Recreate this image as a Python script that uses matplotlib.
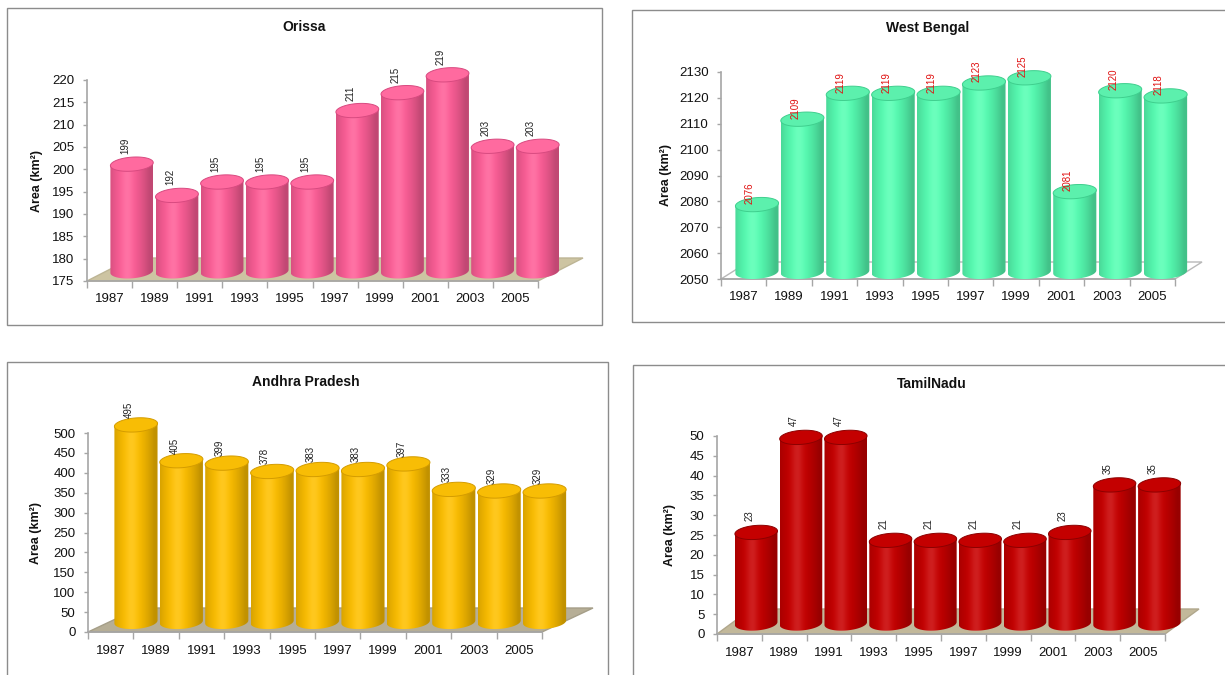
import numpy as np
import matplotlib.pyplot as plt
from matplotlib.patches import Polygon, Rectangle
from matplotlib.colors import to_rgb

plt.rcParams['font.family'] = ['Liberation Sans', 'DejaVu Sans']

years = ['1987', '1989', '1991', '1993', '1995', '1997', '1999', '2001', '2003', '2005']

orissa = [199, 192, 195, 195, 195, 211, 215, 219, 203, 203]
west_bengal = [2076, 2109, 2119, 2119, 2119, 2123, 2125, 2081, 2120, 2118]
andhra_pradesh = [495, 405, 399, 378, 383, 383, 397, 333, 329, 329]
tamilnadu = [23, 47, 47, 21, 21, 21, 21, 23, 35, 35]

W, H = 1225, 675


def fx(px):
    return px / W


def fy(py):
    return 1 - py / H


def cylinder(ax, xc, y0, y1, w, eh, sh, base, top, rim, z):
    # body: straight sides plus the lower half of the base ellipse
    tb = np.linspace(np.pi, 2 * np.pi, 60)
    arc = np.column_stack([xc + w / 2 * np.cos(tb), y0 + eh / 2 * np.sin(tb) + sh * np.cos(tb)])
    pts = np.vstack([[xc - w / 2, y1 - sh], arc, [xc + w / 2, y1 + sh]])
    clip = Polygon(pts, closed=True, facecolor='none', edgecolor='none', zorder=z)
    ax.add_patch(clip)

    t = np.linspace(0, 1, 64)
    lam = np.clip(np.cos((t - 0.4) * np.pi * 0.95), 0, 1)
    fac = 0.76 + 0.24 * lam
    col = np.array(to_rgb(base))[None, :] * fac[:, None]
    col = col + (1 - col) * (0.12 * lam ** 12)[:, None]
    grad = np.clip(col, 0, 1)[None, :, :]
    im = ax.imshow(grad, extent=[xc - w / 2, xc + w / 2, y0 - eh / 2 - abs(sh), y1 + abs(sh)],
                   aspect='auto', interpolation='bilinear', zorder=z)
    im.set_clip_path(clip)

    # top cap
    tt = np.linspace(0, 2 * np.pi, 100)
    cap = np.column_stack([xc + w / 2 * np.cos(tt), y1 + eh / 2 * np.sin(tt) + sh * np.cos(tt)])
    ax.add_patch(Polygon(cap, closed=True, facecolor=top, edgecolor=rim, lw=0.7, zorder=z + 0.1))


panels = [
    dict(title='Orissa', values=orissa, ymin=175, ymax=220, step=5,
         xa=87, xb=538, ya=281, yb=80, ddx=45, ddy=23,
         base='#ff5f98', top='#ff6a9f', rim='#d84a80',
         floor='#cdc4a2', floor_edge='#bdb595', label_color='#222222', label_dy=3,
         box=(7, 8, 602, 325), title_xy=(304, 27), ylabel_x=37),
    dict(title='West Bengal', values=west_bengal, ymin=2050, ymax=2130, step=10,
         xa=721, xb=1175, ya=279, yb=72, ddx=27, ddy=17,
         base='#57ffb4', top='#5cf0ad', rim='#3fcf8e',
         floor='#ffffff', floor_edge='#b8b8b8', label_color='#e01010', label_dy=-6.5,
         box=(632, 10, 1232, 322), title_xy=(928, 28), ylabel_x=666),
    dict(title='Andhra Pradesh', values=andhra_pradesh, ymin=0, ymax=500, step=50,
         xa=88, xb=542, ya=632, yb=433, ddx=51, ddy=24,
         base='#ffc000', top='#f8bd05', rim='#d49c00',
         floor='#b6ae96', floor_edge='#a59e88', label_color='#222222', label_dy=0,
         box=(7, 362, 608, 682), title_xy=(306, 382), ylabel_x=36),
    dict(title='TamilNadu', values=tamilnadu, ymin=0, ymax=50, step=5,
         xa=717, xb=1165, ya=634, yb=436, ddx=34, ddy=25,
         base='#c80000', top='#c40000', rim='#8c0000',
         floor='#c2b89a', floor_edge='#b0a78c', label_color='#222222', label_dy=4,
         box=(633, 365, 1232, 682), title_xy=(932, 384), ylabel_x=670),
]

fig = plt.figure(figsize=(12.25, 6.75), dpi=100)

for p in panels:
    # panel frame
    x0, y0, x1, y1 = p['box']
    fig.add_artist(Rectangle((fx(x0), fy(y1)), fx(x1 - x0), (y1 - y0) / H,
                             transform=fig.transFigure, fill=False, edgecolor='#8c8c8c', lw=1))
    fig.text(fx(p['title_xy'][0]), fy(p['title_xy'][1]), p['title'], ha='center', va='center',
             fontsize=10, fontweight='bold', color='#111111')
    fig.text(fx(p['ylabel_x']), fy((p['ya'] + p['yb']) / 2), 'Area (km²)', ha='center', va='center',
             rotation=90, fontsize=9, fontweight='bold', color='#111111')

    ymin, ymax = p['ymin'], p['ymax']
    ppc = (p['xb'] - p['xa']) / 10.0
    ppv = (p['ya'] - p['yb']) / (ymax - ymin)
    ext_x, ext_y = 11.5, 1.35
    ax = fig.add_axes([fx(p['xa']), fy(p['ya']), ppc * ext_x / W,
                       (p['ya'] - p['yb']) * ext_y / H])
    ax.set_xlim(-0.5, -0.5 + ext_x)
    ax.set_ylim(ymin, ymin + (ymax - ymin) * ext_y)
    ax.patch.set_alpha(0)

    ddx = p['ddx'] / ppc
    ddy = p['ddy'] / ppv
    lift = 0.42 * ddy

    # floor
    floor = [(-0.5, ymin), (9.5, ymin), (9.5 + ddx, ymin + ddy), (-0.5 + ddx, ymin + ddy)]
    ax.add_patch(Polygon(floor, closed=True, facecolor=p['floor'], edgecolor=p['floor_edge'],
                         lw=1, zorder=1, clip_on=False))

    w = 0.95
    eh = 14 / ppv
    sh = 1.5 / ppv
    for i, v in enumerate(p['values']):
        xc = i - 0.5 + ddx / 2 + w / 2 + 0.02
        top_y = v + lift
        cylinder(ax, xc, ymin + lift, top_y, w, eh, sh, p['base'], p['top'], p['rim'], 3 + i * 0.2)
        ax.annotate(str(v), (xc, top_y + eh / 2), xytext=(-7 * 0.72, p['label_dy'] * 0.72),
                    textcoords='offset points', rotation=90, ha='center', va='bottom',
                    fontsize=7, color=p['label_color'], zorder=10)

    for s in ('top', 'right'):
        ax.spines[s].set_visible(False)
    ax.spines['left'].set_bounds(ymin, ymax)
    ax.spines['bottom'].set_bounds(-0.5, 9.5)
    for s in ('left', 'bottom'):
        ax.spines[s].set_color('#a6a6a6')
        ax.spines[s].set_linewidth(1.2)
        ax.spines[s].set_zorder(2)

    ax.set_yticks(np.arange(ymin, ymax + p['step'] / 2, p['step']))
    ax.tick_params(axis='y', length=3, width=1, color='#a6a6a6', pad=6, labelsize=9.5,
                   labelcolor='#111111')
    ax.set_xticks(range(len(years)))
    ax.set_xticklabels(years)
    ax.set_xticks(np.arange(-0.5, 10, 1.0), minor=True)
    ax.tick_params(axis='x', which='major', length=0, pad=9, labelsize=9.5, labelcolor='#111111')
    ax.tick_params(axis='x', which='minor', length=5, width=1, color='#a6a6a6')

fig.savefig('out.png', dpi=100)
